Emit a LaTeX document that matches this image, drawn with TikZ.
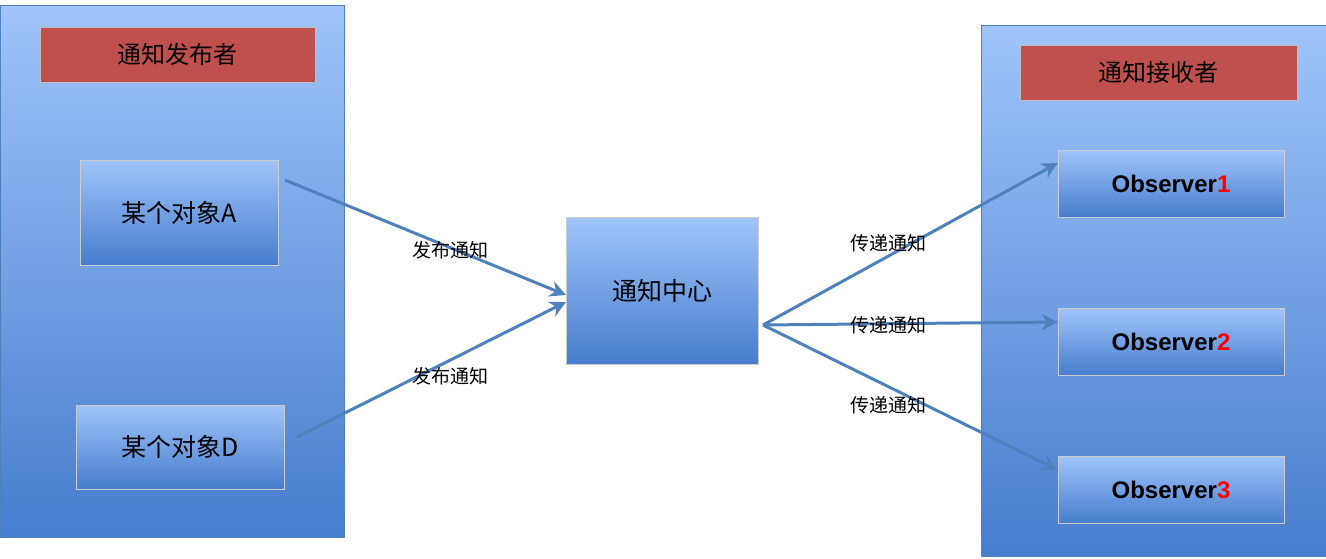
\documentclass[tikz,border=0pt]{standalone}
\usepackage{fontspec}
\setmainfont{Liberation Sans}
\newfontfamily\cjk{Noto Sans CJK SC}
\usetikzlibrary{arrows.meta}
\definecolor{panelTop}{RGB}{160,196,250}
\definecolor{panelBot}{RGB}{70,125,205}
\definecolor{edgeBlue}{RGB}{79,129,189}
\definecolor{titleRed}{RGB}{192,80,77}
\tikzset{
  panel/.style={draw=edgeBlue,thick,top color=panelTop,bottom color=panelBot,inner sep=0pt},
  title/.style={draw=black!25,fill=titleRed,minimum width=275pt,minimum height=55pt,font=\cjk\fontsize{24pt}{24pt}\selectfont,text=black},
  objbox/.style={draw=black!20,top color=panelTop,bottom color=panelBot,inner sep=0pt,font=\cjk\fontsize{25pt}{25pt}\selectfont,drop shadow/.style={}},
  obsbox/.style={objbox,minimum width=226pt,minimum height=67pt,font=\bfseries\fontsize{24pt}{24pt}\selectfont},
  flow/.style={draw=edgeBlue,line width=3pt,-{Stealth[length=16pt,width=16pt]}},
  lbl/.style={font=\cjk\fontsize{19pt}{19pt}\selectfont,inner sep=1pt}
}
\begin{document}
\begin{tikzpicture}[x=1pt,y=-1pt]
  \useasboundingbox (0,0) rectangle (1326,558);
  % panels
  \node[panel,minimum width=344pt,minimum height=532pt] (pub) at (172,271) {};
  \node[panel,minimum width=345pt,minimum height=531pt] (rec) at (1153.5,290.5) {};
  \node[title] (pubT) at (177.5,54.5) {通知发布者};
  \node[title,minimum width=277pt] (recT) at (1158.5,72.5) {通知接收者};
  % senders
  \node[objbox,minimum width=198pt,minimum height=105pt] (objA) at (179,212.5) {某个对象A};
  \node[objbox,minimum width=208pt,minimum height=84pt] (objD) at (180,447) {某个对象D};
  % center
  \node[objbox,minimum width=192pt,minimum height=147pt] (center) at (662,290.5) {通知中心};
  % receivers
  \node[obsbox] (obs1) at (1171,183.5) {Observer\textcolor{red}{1}};
  \node[obsbox] (obs2) at (1171,342) {Observer\textcolor{red}{2}};
  \node[obsbox] (obs3) at (1171,489.5) {Observer\textcolor{red}{3}};
  % connectors
  \coordinate (a0) at (285,180);
  \coordinate (d0) at (297,437);
  \coordinate (c0) at (763,325);
  \draw[flow] (a0) -- (566,295);
  \draw[flow] (d0) -- (566,302);
  \draw[flow] (c0) -- (obs1.west |- 0,163);
  \draw[flow] (c0) -- (obs2.west |- 0,322);
  \draw[flow] (c0) -- (obs3.west |- 0,470);
  % labels
  \node[lbl] (l1) at (450,250) {发布通知};
  \node[lbl] (l2) at (450,376) {发布通知};
  \node[lbl] (l3) at (888,243) {传递通知};
  \node[lbl] (l4) at (888,325) {传递通知};
  \node[lbl] (l5) at (888,405) {传递通知};
\end{tikzpicture}
\end{document}
